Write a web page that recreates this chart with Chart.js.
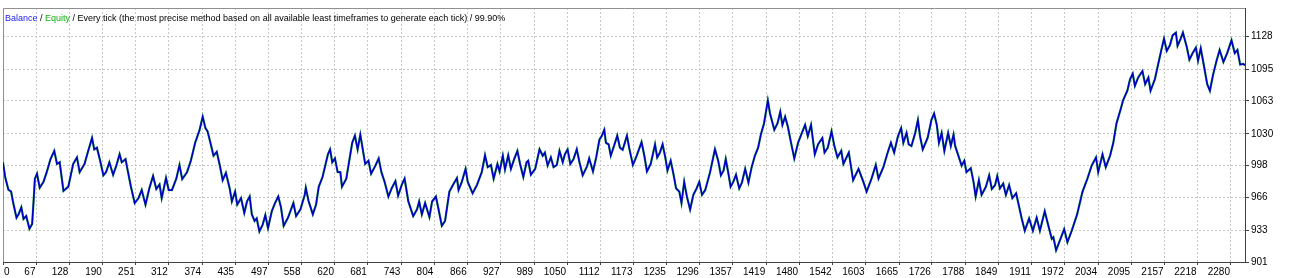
<!DOCTYPE html>
<html>
<head>
<meta charset="utf-8">
<title>Balance / Equity</title>
<script src="https://cdn.jsdelivr.net/npm/chart.js@4.4.1/dist/chart.umd.min.js"></script>
<style>
  html, body { margin: 0; padding: 0; background: #fff; }
  canvas { display: block; }
</style>
</head>
<body>
<canvas id="chart" width="1290" height="278"></canvas>
<script>
// trade number and balance after it
const trades = [5, 9, 15, 20, 24, 30, 34, 39, 43, 48, 54, 59, 62, 64, 68, 73, 80, 86, 93, 100,
    105, 110, 117, 126, 135, 142, 147, 156, 162, 170, 174, 179, 185, 191, 196, 202, 209, 215, 221, 225,
    232, 236, 242, 249, 256, 262, 269, 276, 283, 289, 295, 299, 307, 312, 318, 326, 332, 337, 346, 353,
    361, 369, 375, 380, 384, 389, 395, 401, 407, 412, 418, 425, 429, 435, 439, 446, 452, 457, 462, 466,
    471, 475, 480, 486, 491, 496, 503, 509, 515, 520, 525, 533, 543, 548, 556, 564, 566, 571, 579, 585,
    590, 597, 607, 611, 615, 620, 625, 630, 633, 641, 646, 652, 657, 662, 667, 671, 676, 682, 687, 695,
    701, 706, 712, 719, 725, 732, 737, 744, 749, 756, 765, 772, 776, 781, 787, 795, 800, 807, 812, 818,
    824, 832, 840, 846, 849, 855, 862, 866, 875, 883, 892, 898, 903, 909, 914, 921, 925, 931, 935, 941,
    946, 952, 958, 963, 969, 975, 978, 983, 991, 999, 1005, 1009, 1014, 1020, 1025, 1031, 1036, 1042, 1046, 1051,
    1056, 1062, 1068, 1073, 1079, 1087, 1091, 1098, 1104, 1110, 1114, 1119, 1122, 1127, 1131, 1137, 1143, 1148, 1153, 1161,
    1165, 1172, 1179, 1188, 1193, 1198, 1205, 1213, 1217, 1222, 1227, 1232, 1236, 1242, 1247, 1252, 1258, 1262, 1267, 1272,
    1278, 1284, 1290, 1295, 1300, 1306, 1315, 1324, 1330, 1335, 1340, 1344, 1349, 1353, 1358, 1363, 1369, 1374, 1380, 1386,
    1392, 1398, 1404, 1409, 1415, 1422, 1426, 1434, 1440, 1445, 1449, 1454, 1459, 1465, 1471, 1478, 1485, 1491, 1496, 1502,
    1509, 1515, 1523, 1527, 1533, 1540, 1545, 1551, 1558, 1562, 1572, 1580, 1590, 1599, 1605, 1614, 1622, 1627, 1636, 1644,
    1650, 1656, 1663, 1669, 1673, 1679, 1683, 1688, 1695, 1700, 1704, 1709, 1718, 1725, 1730, 1735, 1739, 1744, 1749, 1756,
    1761, 1766, 1769, 1775, 1781, 1786, 1790, 1798, 1803, 1807, 1813, 1818, 1826, 1832, 1837, 1843, 1847, 1852, 1858, 1863,
    1869, 1875, 1882, 1888, 1892, 1898, 1906, 1913, 1920, 1926, 1935, 1941, 1948, 1951, 1956, 1963, 1971, 1977, 1985, 1995,
    2005, 2014, 2022, 2030, 2034, 2042, 2048, 2056, 2062, 2068, 2076, 2080, 2088, 2093, 2098, 2102, 2108, 2116, 2121, 2127,
    2131, 2139, 2145, 2151, 2156, 2161, 2167, 2172, 2178, 2181, 2187, 2191, 2198, 2203, 2209, 2215, 2219, 2224, 2229, 2236,
    2241, 2247, 2253, 2259, 2266, 2273, 2281, 2287, 2292, 2297, 2303, 2306];

const balance = [1001.3, 986.5, 973.7, 971.8, 960.3, 945.5, 949.2, 956, 944.3, 947.2, 934.4, 939.3, 965.2, 984.6, 989.8, 975.7, 981.6, 991.4, 1004.5, 1012.8,
    999.6, 1001.3, 972.5, 976.7, 999.6, 1006.2, 991.4, 999.6, 1011.1, 1025.8, 1014.3, 1016, 1002.9, 988.2, 991.4, 1001.3, 988.8, 998, 1009.4, 1001.3,
    1004.5, 993.1, 976.7, 960.3, 965.2, 973.4, 958.7, 975, 987.5, 974.4, 979, 965.2, 985.5, 973.4, 973.4, 984.8, 998.6, 984.3, 991.4, 1002.9,
    1020.9, 1033.4, 1047.2, 1035.7, 1032.4, 1021.6, 1007.9, 1011.8, 997.3, 983.3, 990.7, 975, 961.9, 971.8, 958.7, 965.2, 950.4, 961.9, 966.9, 948.9,
    942.3, 944.9, 931.8, 938.4, 948.2, 935.1, 952.1, 960.3, 966.9, 956, 937.4, 945.5, 960.3, 947.2, 953.8, 968.5, 975.7, 962.6, 948.9, 958.7,
    976.7, 986.5, 1009.4, 1014.3, 1001.3, 1005.2, 991.4, 991.4, 976.7, 984.8, 1001.3, 1020.9, 1028.1, 1014.3, 1029.1, 1016, 999.6, 1002.9, 989.8, 998,
    1005.2, 991.4, 981.6, 966.9, 975, 982.3, 967.8, 979, 984.8, 961.9, 947.2, 953.8, 961.9, 948.9, 960.3, 946.2, 961.9, 966.9, 953.8, 937.4,
    942.3, 971.8, 979.9, 985.5, 973.4, 981.6, 994.7, 981.6, 970.1, 978.4, 991.4, 1008.4, 996.4, 998.6, 984.8, 999.6, 992.1, 1007.9, 994.1, 1008.4,
    994.7, 1004.5, 1012.8, 999.6, 986.5, 1001.3, 1002.9, 988.8, 994.7, 1014.3, 1007.9, 1011.1, 998, 1006.2, 996.4, 998.6, 1012.8, 1001.3, 1009.4, 1014.3,
    999.6, 1004.5, 1014.3, 1001.3, 988.2, 997.3, 1005.2, 992.1, 1006.2, 1024.2, 1027.5, 1034, 1020.9, 1019.3, 1007.9, 1017.7, 1028.1, 1016, 1013.8, 1028.1,
    1016, 998.6, 1007.9, 1021.6, 1008.4, 992.1, 999.6, 1019.3, 1006.2, 1011.1, 1019.3, 1006.2, 993.1, 1002.9, 989.8, 975, 971.8, 960.3, 981.6, 966.9,
    953.8, 968.5, 975, 981.6, 968.5, 973.4, 991.4, 1014.3, 1002.9, 988.2, 993.1, 1004.5, 989.8, 976.7, 981.6, 988.8, 975, 980.9, 994.7, 980.9,
    996.4, 1007.9, 1016, 1029.1, 1040.6, 1063.5, 1050.4, 1034, 1040.6, 1052.1, 1038.9, 1047.2, 1037.3, 1020.9, 1005.2, 1020.9, 1030.8, 1038.9, 1027.5, 1038.9,
    1009.4, 1019.3, 1025.8, 1011.1, 1016, 1032.4, 1018.3, 1006.2, 1012.8, 999.6, 1011.1, 983.3, 994.7, 981.6, 971.8, 984.8, 998.6, 984.8, 996.4, 1011.1,
    1020.9, 1011.1, 1027.5, 1035.7, 1020.9, 1030.8, 1019.3, 1017.7, 1030.8, 1043.8, 1027.5, 1014.3, 1025.8, 1043.8, 1050.4, 1038.9, 1020.9, 1030.8, 1012.8, 1030.8,
    1017.7, 1029.1, 1017.7, 1007.9, 998, 1002.9, 991.4, 995.4, 981.6, 966.9, 983.3, 968.5, 976.7, 988.2, 974.4, 978.4, 987.5, 975, 979.9, 968.5,
    978.4, 965.2, 970.1, 955.4, 945.5, 932.5, 944.9, 932.5, 945.5, 932.5, 952.1, 939, 924.3, 925.9, 912.8, 922.6, 934.1, 920.9, 932.5, 948.9,
    971.8, 984.8, 998, 1006.2, 991.4, 1009.4, 996.4, 1007.9, 1020.9, 1040.6, 1055.3, 1063.5, 1073.3, 1084.8, 1090.4, 1078.2, 1086.5, 1093, 1079.9, 1086.5,
    1073.3, 1084.8, 1099.6, 1114.3, 1125.8, 1113.3, 1119.2, 1129.1, 1131.7, 1118.5, 1125.8, 1131.7, 1117.6, 1104.5, 1111.1, 1116.6, 1103.5, 1116, 1101.2, 1079.9,
    1073.3, 1089.7, 1102.8, 1114.3, 1102.2, 1111.1, 1124.1, 1111.1, 1114.3, 1099.6, 1100.3, 1098.8];

const xTickLabels = [0, 67, 128, 190, 251, 312, 374, 435, 497, 558, 620, 681, 743, 804, 866, 927, 989, 1050, 1112,
    1173, 1235, 1296, 1357, 1419, 1480, 1542, 1603, 1665, 1726, 1788, 1849, 1911, 1972, 2034, 2095, 2157, 2218, 2280];
const yTickLabels = [901, 933, 966, 998, 1030, 1063, 1095, 1128];

const titleParts = [
    ['Balance', '#1a1ae6'],
    [' / ', '#000000'],
    ['Equity', '#10b010'],
    [' / Every tick (the most precise method based on all available least timeframes to generate each tick) / 99.90%', '#000000']
];

const fontFamily = '"Liberation Sans", Arial, sans-serif';

const points = trades.map((t, i) => ({ x: t, y: balance[i] }));

// left/top frame, bottom labels and the caption
const frame = {
    id: 'frame',
    beforeDatasetsDraw(chart) {
        const { ctx, chartArea: a } = chart;
        ctx.save();
        ctx.strokeStyle = '#909090';
        ctx.lineWidth = 1;
        ctx.beginPath();
        ctx.moveTo(a.left + 0.5, a.bottom);
        ctx.lineTo(a.left + 0.5, a.top + 0.5);
        ctx.lineTo(a.right, a.top + 0.5);
        ctx.stroke();
        ctx.restore();
    },
    afterDraw(chart) {
        const { ctx, chartArea: a } = chart;
        const x = chart.scales.x;
        ctx.save();
        ctx.font = '10px ' + fontFamily;
        ctx.fillStyle = '#000000';
        ctx.textBaseline = 'alphabetic';
        x.ticks.forEach((t, i) => {
            const px = x.getPixelForValue(t.value);
            ctx.textAlign = i === 0 ? 'left' : 'right';
            ctx.fillText(String(xTickLabels[i]), i === 0 ? px + 1 : px - 1, a.bottom + 12.5);
        });

        ctx.font = '9px ' + fontFamily;
        ctx.textAlign = 'left';
        let tx = a.left + 2;
        for (const [text, color] of titleParts) {
            ctx.fillStyle = color;
            ctx.fillText(text, tx, a.top + 12.5);
            tx += ctx.measureText(text).width;
        }
        ctx.restore();
    }
};

const gridOpts = {
    color: '#c8c8c8',
    tickLength: 4,
    tickColor: '#404040',
    tickWidth: 1
};

const ctx = document.getElementById('chart').getContext('2d');

const myChart = new Chart(ctx, { // eslint-disable-line
    type: 'line',
    data: {
        datasets: [
            {
                label: 'Balance',
                data: points,
                borderColor: '#0000c0',
                borderWidth: 1.7,
                pointRadius: 0,
                tension: 0
            },
            {
                // equity runs under balance almost everywhere
                label: 'Equity',
                data: points,
                borderColor: '#5ccc5c',
                borderWidth: 2.3,
                pointRadius: 0,
                tension: 0
            }
        ]
    },
    options: {
        responsive: false,
        animation: false,
        devicePixelRatio: 1,
        layout: { padding: { left: 3, top: 2, right: 0, bottom: 0 } },
        plugins: {
            legend: { display: false },
            tooltip: { enabled: false }
        },
        scales: {
            x: {
                type: 'linear',
                min: 5,
                max: 2306,
                afterBuildTicks: (s) => {
                    s.ticks = xTickLabels.map(v => ({ value: Math.max(v, s.min) }));
                },
                afterFit: (s) => { s.height = 16; },
                ticks: { display: false },
                grid: Object.assign({}, gridOpts, { tickLength: 3 }),
                border: { color: '#404040', width: 1, dash: [2, 2] }
            },
            y: {
                position: 'right',
                min: 901,
                max: 1156.5,
                afterBuildTicks: (s) => {
                    s.ticks = yTickLabels.map(v => ({ value: v }));
                },
                afterFit: (s) => { s.width = 45; },
                ticks: {
                    autoSkip: false,
                    padding: 2,
                    color: '#000000',
                    font: { family: fontFamily, size: 10 },
                    callback: (v) => String(v)
                },
                grid: gridOpts,
                border: { color: '#404040', width: 1, dash: [2, 2] }
            }
        }
    },
    plugins: [frame]
});
</script>
</body>
</html>
